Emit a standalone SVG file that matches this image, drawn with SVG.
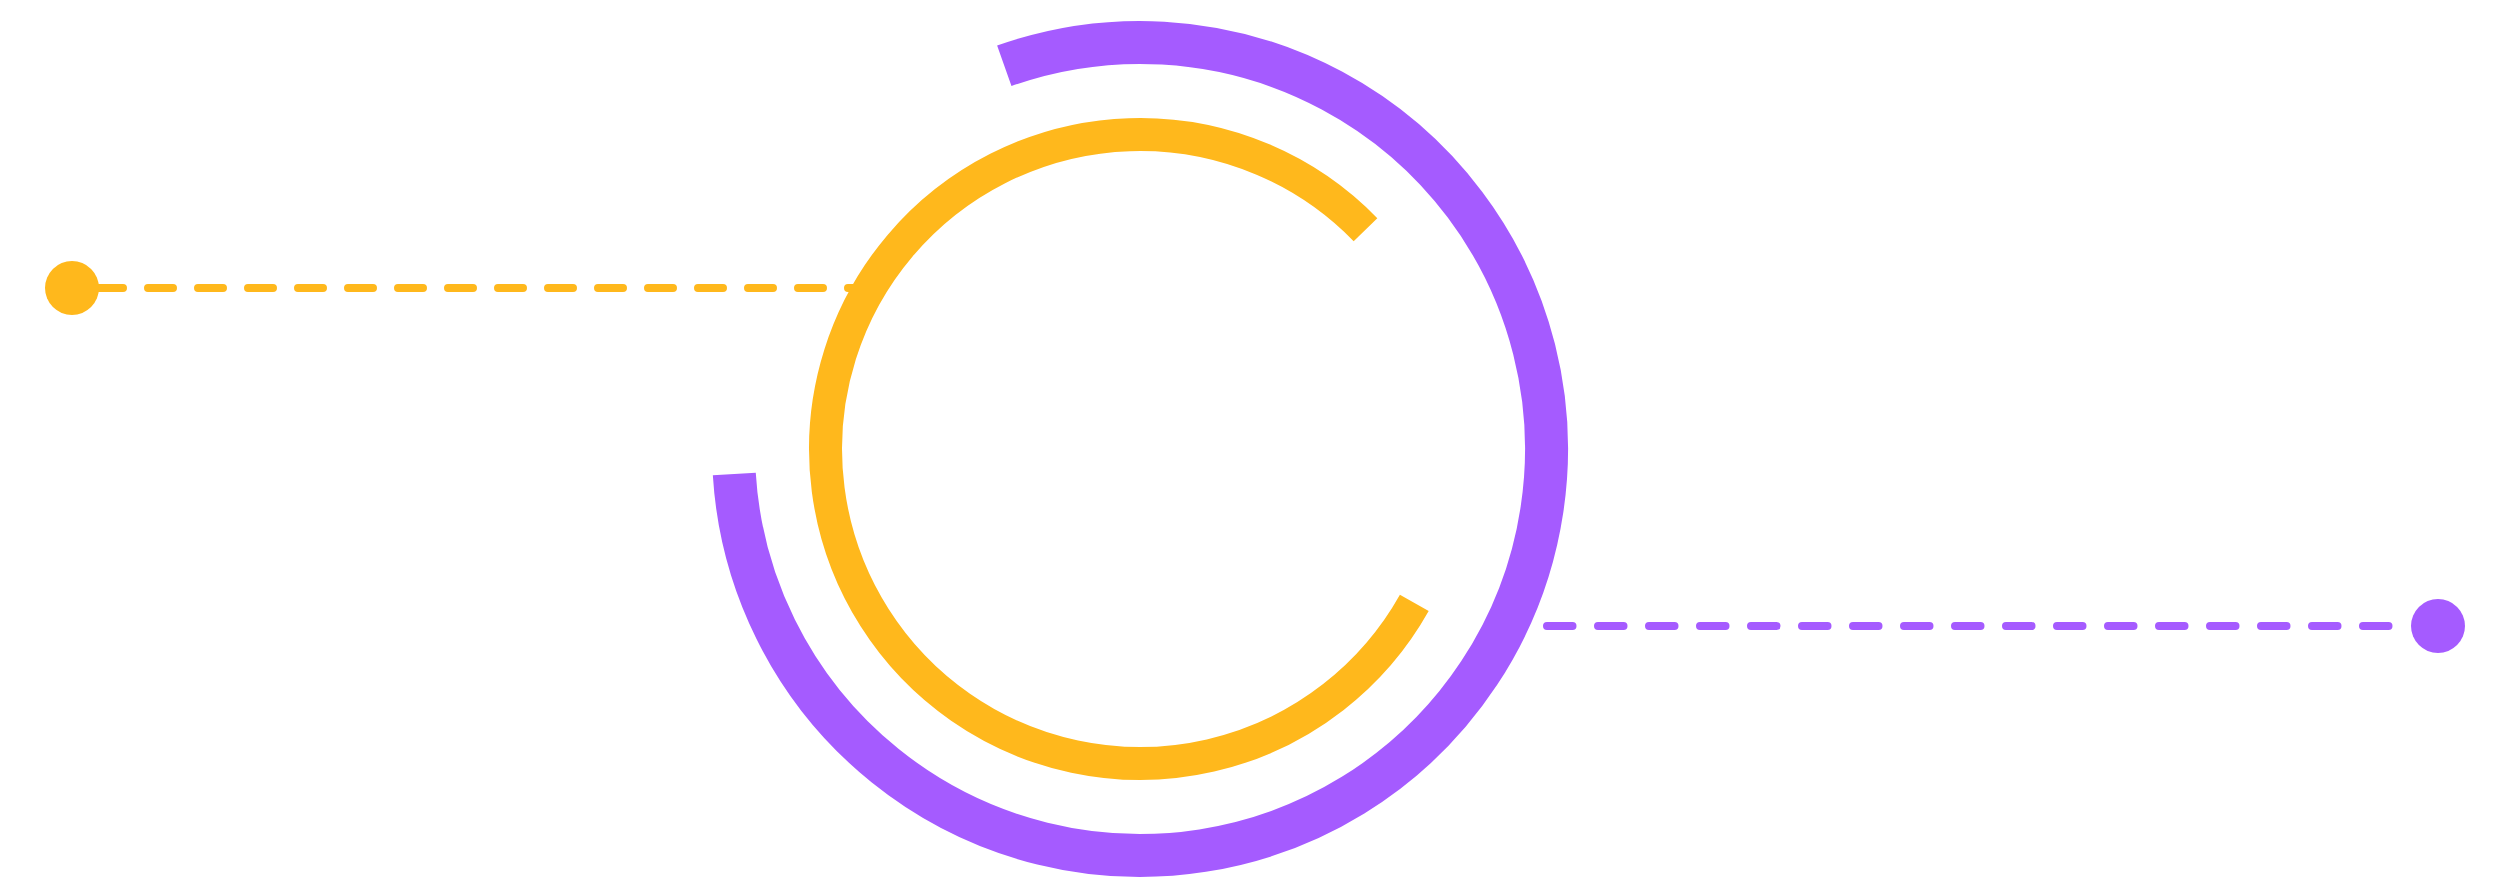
<svg xmlns="http://www.w3.org/2000/svg" width="2501" height="895" viewBox="0 0 2501 895">
<style>
.ring{fill:none;stroke-linecap:butt}
.purple{stroke:#a55bff}
.yellow{stroke:#ffb81c}
.dash{fill:none;stroke-width:8;stroke-linecap:round}
</style>
<rect width="2501" height="895" fill="#ffffff"/>
<g id="connectors">
<path class="dash yellow" d="M98 288H860" stroke-dasharray="25 25"/>
<path class="dash purple" d="M1547 626H2389" stroke-dasharray="25.5 25.5"/>
</g>
<g id="outer-ring">
<path class="ring purple" stroke-width="43" d="M1004.3 65.8A406.5 406.5 0 1 1 734.3 474"/>
</g>
<g id="inner-ring">
<path class="ring yellow" stroke-width="33" d="M1414.3 602.9A314.5 314.5 0 1 1 1365.5 229.7"/>
</g>
<g id="start-dot">
<circle cx="72" cy="288" r="27" fill="#ffb81c"/>
</g>
<g id="end-dot">
<circle cx="2438" cy="626" r="27" fill="#a55bff"/>
</g>
</svg>
